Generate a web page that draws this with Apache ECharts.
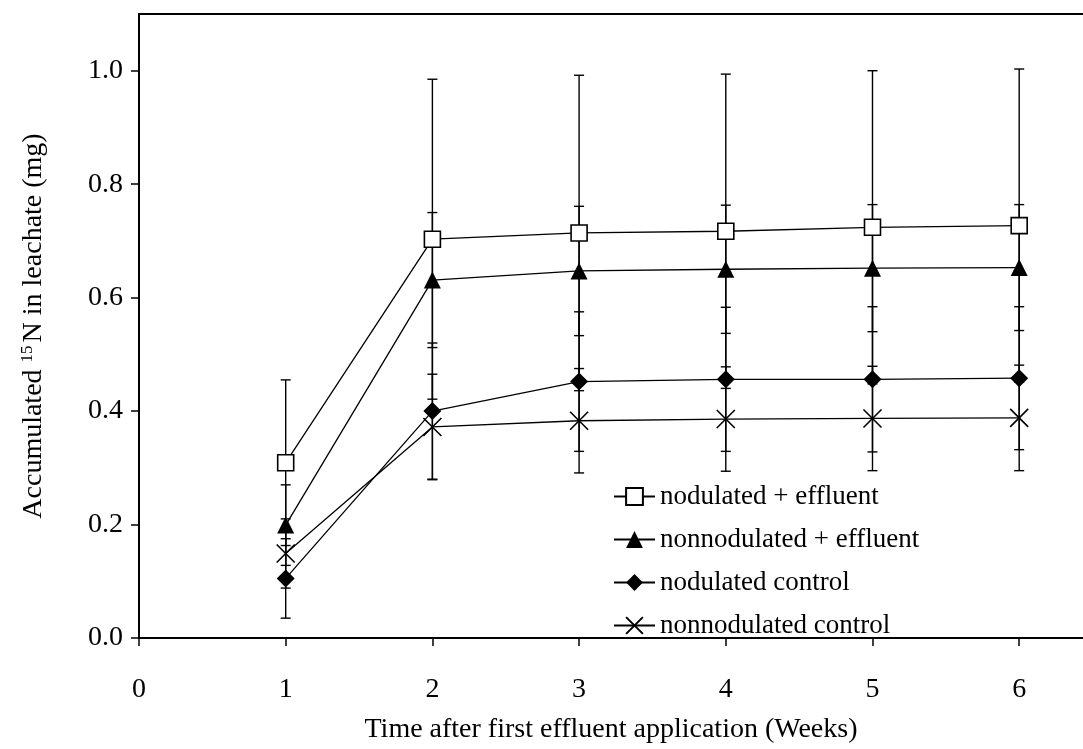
<!DOCTYPE html>
<html>
<head>
<meta charset="utf-8">
<script src="https://cdn.jsdelivr.net/npm/echarts@6/dist/echarts.min.js"></script>
<style>
  html, body { margin: 0; padding: 0; background: #fff; }
  #chart { width: 1083px; height: 749px; }
</style>
</head>
<body>
<div id="chart"></div>
<script>
// Weeks after first effluent application.
const weeks = [1, 2, 3, 4, 5, 6];
const xTicks = [0, 1, 2, 3, 4, 5, 6];
const yTicks = [0, 0.2, 0.4, 0.6, 0.8, 1.0];

// Means and error-bar half-lengths (mg).
const nodEffMean = [0.309, 0.703, 0.714, 0.717, 0.724, 0.727];
const nodEffErr = [0.146, 0.282, 0.278, 0.277, 0.276, 0.276];
const nonEffMean = [0.199, 0.631, 0.647, 0.650, 0.652, 0.653];
const nonEffErr = [0.071, 0.119, 0.114, 0.113, 0.112, 0.111];
const nodCtlMean = [0.105, 0.400, 0.452, 0.456, 0.456, 0.458];
const nodCtlErr = [0.070, 0.120, 0.123, 0.127, 0.128, 0.126];
const nonCtlMean = [0.149, 0.372, 0.383, 0.386, 0.387, 0.388];
const nonCtlErr = [0.061, 0.093, 0.092, 0.092, 0.092, 0.093];

const names = [
  "nodulated + effluent",
  "nonnodulated + effluent",
  "nodulated control",
  "nonnodulated control",
];

const FONT = "'Liberation Serif', 'Times New Roman', serif";
const INK = "#000";

const groups = [
  { name: names[0], mean: nodEffMean, err: nodEffErr, symbol: "rect", size: 16, fill: "#fff" },
  { name: names[1], mean: nonEffMean, err: nonEffErr, symbol: "triangle", size: 17, fill: INK },
  { name: names[2], mean: nodCtlMean, err: nodCtlErr, symbol: "diamond", size: 18, fill: INK },
  { name: names[3], mean: nonCtlMean, err: nonCtlErr, symbol: "path://M0,0L10,10M10,0L0,10", size: 18, fill: "none" },
];

// Error bars: vertical whisker with a short cap at each end, placed via the axes.
function errorBars(g) {
  return {
    type: "custom",
    name: g.name + " err",
    z: 1,
    silent: true,
    data: weeks.map((w, i) => [w, g.mean[i] - g.err[i], g.mean[i] + g.err[i]]),
    encode: { x: 0, y: [1, 2] },
    renderItem: (params, api) => {
      const lo = api.coord([api.value(0), api.value(1)]);
      const hi = api.coord([api.value(0), api.value(2)]);
      const half = 5;
      const style = { stroke: INK, lineWidth: 1.4 };
      return {
        type: "group",
        children: [
          { type: "line", shape: { x1: lo[0], y1: lo[1], x2: hi[0], y2: hi[1] }, style },
          { type: "line", shape: { x1: lo[0] - half, y1: lo[1], x2: lo[0] + half, y2: lo[1] }, style },
          { type: "line", shape: { x1: hi[0] - half, y1: hi[1], x2: hi[0] + half, y2: hi[1] }, style },
        ],
      };
    },
  };
}

function meanLine(g) {
  return {
    type: "line",
    name: g.name,
    z: 3,
    symbol: g.symbol,
    symbolSize: g.size,
    showAllSymbol: true,
    lineStyle: { color: INK, width: 1.3 },
    itemStyle: { color: g.fill, borderColor: INK, borderWidth: g.fill === INK ? 0 : 1.6 },
    emphasis: { disabled: true },
    data: weeks.map((w, i) => [w, g.mean[i]]),
  };
}

const chart = echarts.init(document.getElementById("chart"), null, { renderer: "canvas" });
chart.setOption({
  animation: false,
  textStyle: { fontFamily: FONT, color: INK },
  grid: { left: 139, right: 0, top: 14, bottom: 111 },
  legend: {
    data: names,
    orient: "vertical",
    left: 613,
    top: 483,
    padding: 0,
    itemWidth: 41,
    itemHeight: 21,
    itemGap: 16,
    selectedMode: false,
    textStyle: { fontFamily: FONT, fontSize: 27, lineHeight: 27, color: INK },
  },
  xAxis: [
    {
      type: "value",
      min: 0,
      max: 6.435,
      name: "Time after first effluent application (Weeks)",
      nameLocation: "middle",
      nameGap: 78,
      nameTextStyle: { fontFamily: FONT, fontSize: 28, color: INK, verticalAlign: "top" },
      axisLine: { lineStyle: { color: INK, width: 2 } },
      axisTick: { customValues: xTicks, length: 8, lineStyle: { color: INK, width: 1.5 } },
      axisLabel: { customValues: xTicks, margin: 38, fontFamily: FONT, fontSize: 28, color: INK },
      splitLine: { show: false },
    },
    {
      // frame line along the top of the plot
      type: "value",
      position: "top",
      min: 0,
      max: 6.435,
      axisLine: { lineStyle: { color: INK, width: 2 } },
      axisTick: { show: false },
      axisLabel: { show: false },
      splitLine: { show: false },
    },
  ],
  yAxis: {
    type: "value",
    min: 0,
    max: 1.1,
    name: "Accumulated {sup|15}N in leachate (mg)",
    nameLocation: "middle",
    nameGap: 91,
    nameTextStyle: {
      fontFamily: FONT, fontSize: 28, color: INK,
      rich: { sup: { fontFamily: FONT, fontSize: 17, color: INK, verticalAlign: "top", padding: [0, 3, 12, 0] } },
    },
    axisLine: { lineStyle: { color: INK, width: 2 } },
    axisTick: { customValues: yTicks, length: 8, lineStyle: { color: INK, width: 1.5 } },
    axisLabel: {
      customValues: yTicks, margin: 16, fontFamily: FONT, fontSize: 28, color: INK,
      formatter: (v) => v.toFixed(1),
    },
    splitLine: { show: false },
  },
  series: [...groups.map(errorBars), ...groups.map(meanLine)],
});
window.addEventListener("resize", () => chart.resize());
</script>
</body>
</html>
